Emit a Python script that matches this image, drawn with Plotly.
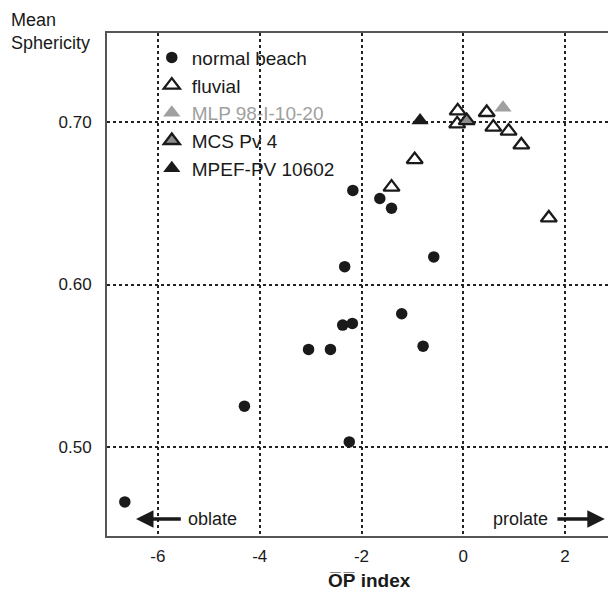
import plotly.graph_objects as go

# ---- data ----
beach_x = [-6.65, -4.30, -3.04, -2.61, -2.37, -2.18, -2.33, -2.17, -1.64, -1.41, -0.58, -1.21, -0.79, -2.24]
beach_y = [0.466, 0.525, 0.560, 0.560, 0.575, 0.576, 0.611, 0.658, 0.653, 0.647, 0.617, 0.582, 0.562, 0.503]

fluvial_x = [-1.41, -0.955, -0.11, -0.12, 0.46, 0.59, 0.89, 1.14, 1.68]
fluvial_y = [0.660, 0.677, 0.707, 0.699, 0.706, 0.697, 0.6945, 0.686, 0.641]

mlp_x = [0.78]
mlp_y = [0.709]

mcs_x = [0.067]
mcs_y = [0.701]

mpef_x = [-0.85]
mpef_y = [0.701]

x_ticks = [-6, -4, -2, 0, 2]
x_ticklabels = ["-6", "-4", "-2", "0", "2"]
y_ticks = [0.50, 0.60, 0.70]
y_ticklabels = ["0.50", "0.60", "0.70"]

FONT = "Liberation Sans, Arial, sans-serif"
INK = "#1a1a1a"

fig = go.Figure()
fig.add_trace(go.Scatter(x=beach_x, y=beach_y, mode="markers", name="normal beach",
                         marker=dict(symbol="circle", size=11.5, color=INK,
                                     line=dict(width=0))))
fig.add_trace(go.Scatter(x=fluvial_x, y=fluvial_y, mode="markers", name="fluvial",
                         marker=dict(symbol="triangle-up", size=14, color="white",
                                     line=dict(width=2.3, color=INK))))
fig.add_trace(go.Scatter(x=mlp_x, y=mlp_y, mode="markers",
                         name="<span style='color:#a0a0a0'>MLP 98-I-10-20</span>",
                         marker=dict(symbol="triangle-up", size=15, color="#a0a0a0",
                                     line=dict(width=0))))
fig.add_trace(go.Scatter(x=mcs_x, y=mcs_y, mode="markers", name="MCS Pv 4",
                         marker=dict(symbol="triangle-up", size=14, color="#8c8c8c",
                                     line=dict(width=2.3, color=INK))))
fig.add_trace(go.Scatter(x=mpef_x, y=mpef_y, mode="markers", name="MPEF-PV 10602",
                         marker=dict(symbol="triangle-up", size=15, color=INK,
                                     line=dict(width=0))))

# page body has an 8px margin; size/margins compensate so the plot area
# sits at x 107..616, y 33..536 of the 616x592 window
fig.update_layout(
    width=608, height=584,
    margin=dict(l=99, r=0, t=25, b=56, autoexpand=False),
    paper_bgcolor="white", plot_bgcolor="white",
    font=dict(family=FONT, size=17, color=INK),
    showlegend=True,
    legend=dict(x=0.088, y=0.989, xanchor="left", yanchor="top",
                bgcolor="rgba(0,0,0,0)", borderwidth=0,
                font=dict(family=FONT, size=19, color=INK),
                tracegroupgap=0),
    xaxis=dict(range=[-7.0, 3.0], tickvals=x_ticks, ticktext=x_ticklabels, ticks="",
               showgrid=True, automargin=False,
               gridcolor="#222", griddash="dot", gridwidth=1.6, zeroline=False,
               showline=True, linecolor="#555", linewidth=2, mirror=True,
               ticklabelstandoff=4, tickfont=dict(size=17, color=INK)),
    yaxis=dict(range=[0.445, 0.755], tickvals=y_ticks, ticktext=y_ticklabels, ticks="",
               showgrid=True, automargin=False, gridcolor="#222", griddash="dot",
               gridwidth=1.6, zeroline=False, showline=True, linecolor="#555",
               linewidth=2, mirror=False, ticklabelstandoff=10,
               tickfont=dict(size=17, color=INK)),
)

# axis titles
fig.add_annotation(text="<b>O\u0305P\u0305 index</b>", xref="paper", yref="paper",
                   x=0.515, y=0, yshift=-44, xanchor="center", yanchor="middle",
                   showarrow=False, font=dict(size=19, color=INK))
fig.add_annotation(text="Mean<br>Sphericity", xref="paper", yref="paper",
                   x=0, xshift=-98, y=1, yshift=25, xanchor="left", yanchor="top",
                   align="left", showarrow=False, font=dict(size=18, color=INK))

# oblate / prolate arrows
fig.add_annotation(x=-6.43, y=0.4555, ax=-5.52, ay=0.4555, xref="x", yref="y",
                   axref="x", ayref="y", text="", showarrow=True, arrowhead=2,
                   arrowsize=1, arrowwidth=3.5, arrowcolor=INK)
fig.add_annotation(x=-5.45, y=0.4555, xref="x", yref="y", text="oblate",
                   xanchor="left", yanchor="middle", showarrow=False,
                   font=dict(size=18, color=INK))
fig.add_annotation(x=2.78, y=0.4555, ax=1.82, ay=0.4555, xref="x", yref="y",
                   axref="x", ayref="y", text="", showarrow=True, arrowhead=2,
                   arrowsize=1, arrowwidth=3.5, arrowcolor=INK)
fig.add_annotation(x=1.70, y=0.4555, xref="x", yref="y", text="prolate",
                   xanchor="right", yanchor="middle", showarrow=False,
                   font=dict(size=18, color=INK))

fig.write_html("out.html")
